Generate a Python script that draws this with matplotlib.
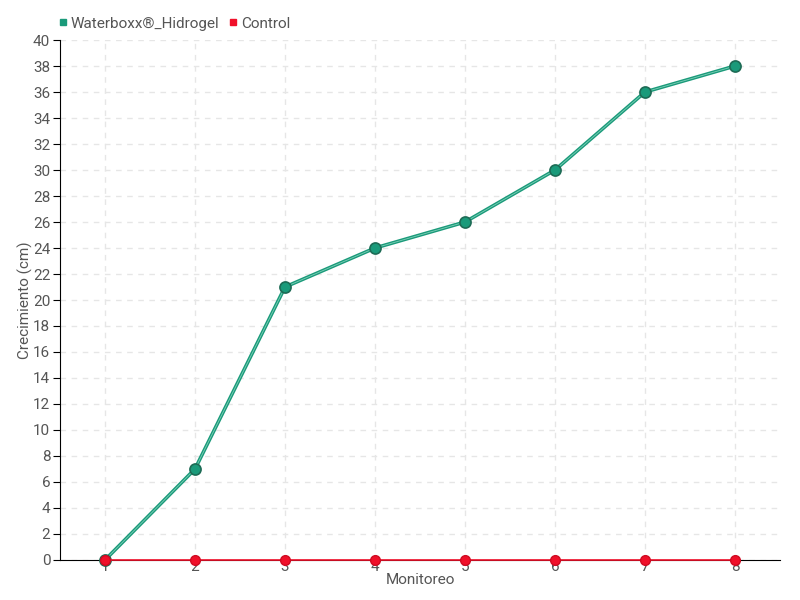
import matplotlib
matplotlib.use("Agg")
import matplotlib.pyplot as plt
from matplotlib.lines import Line2D

plt.rcParams['font.family'] = ['Roboto', 'DejaVu Sans']

monitoreo = [1, 2, 3, 4, 5, 6, 7, 8]
waterboxx = [0, 7, 21, 24, 26, 30, 36, 38]
control = [0, 0, 0, 0, 0, 0, 0, 0]
y_ticks = list(range(0, 41, 2))

green = '#1a9a7a'
red = '#f0102a'
gray = '#555555'

fig = plt.figure(figsize=(8, 6), dpi=100)
ax = fig.add_axes([0.075, 0.0667, 0.9, 0.8666])

ax.plot(monitoreo, waterboxx, '-', color=green, linewidth=2.6, zorder=3, clip_on=False)
ax.plot(monitoreo, waterboxx, '-', color='#7fd0b8', linewidth=0.6, zorder=3, clip_on=False)
ax.plot(monitoreo, waterboxx, 'o', color=green, markersize=8,
        markeredgecolor='#1d6b55', markeredgewidth=1.2, zorder=4, clip_on=False)
ax.plot(monitoreo, control, '-', color=red, linewidth=1.2, zorder=5, clip_on=False)
ax.plot(monitoreo, control, 'o', color=red, markersize=7,
        markeredgecolor='#d00a22', zorder=6, clip_on=False)

ax.set_xlim(0.5, 8.5)
ax.set_ylim(0, 40)
ax.set_xticks(monitoreo)
ax.set_yticks(y_ticks)
ax.tick_params(axis='x', length=0, colors=gray, labelsize=11, pad=0)
ax.tick_params(axis='y', length=5, color='black', labelcolor=gray, labelsize=11,
               direction='out', pad=2)
ax.grid(True, linestyle=(0, (4, 4)), color='#e6e6e6', linewidth=1)
ax.set_axisbelow(True)
for s in ['top', 'right']:
    ax.spines[s].set_visible(False)
ax.spines['left'].set_color('black')
ax.spines['bottom'].set_color('black')

ax.set_xlabel('Monitoreo', color=gray, fontsize=11)
ax.set_ylabel('Crecimiento (cm)', color=gray, fontsize=11)
ax.yaxis.set_label_coords(-0.037, 0.5)
ax.xaxis.set_label_coords(0.5, -0.026)

handles = [Line2D([], [], marker='s', linestyle='', color=green, markersize=4),
           Line2D([], [], marker='s', linestyle='', color=red, markersize=4)]
fig.legend(handles, ['Waterboxx®_Hidrogel', 'Control'], loc='upper left',
           bbox_to_anchor=(0.052, 0.995), ncol=2, frameon=False, fontsize=11,
           handletextpad=0.0, columnspacing=0.4, labelcolor=gray, handlelength=1)

fig.savefig('out.png', dpi=100)
